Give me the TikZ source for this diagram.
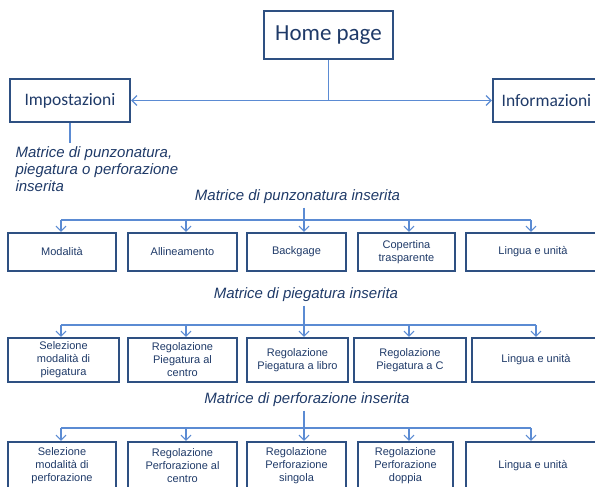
\documentclass[tikz,border=0pt]{standalone}
\usepackage{fontspec}
\setmainfont{Liberation Sans}
\newfontfamily\carlito{Carlito}
\usepackage{tikz}
\usetikzlibrary{arrows.meta, positioning}

\definecolor{boxline}{HTML}{2E5082}
\definecolor{boxtext}{HTML}{1F3A68}
\definecolor{linkblue}{HTML}{5B8BD3}

\begin{document}
\begin{tikzpicture}[
    x=1pt, y=-1pt,
    font=\fontsize{11}{13}\selectfont,
    text=boxtext,
    homebox/.style={draw=boxline, line width=2.6pt, minimum width=129pt, minimum height=48pt, font=\carlito\fontsize{23}{27}\selectfont},
    topbox/.style={draw=boxline, line width=2.4pt, minimum height=43pt, font=\carlito\fontsize{17.5}{20}\selectfont},
    leafbox/.style={draw=boxline, line width=2.2pt, align=center, inner sep=1pt, minimum height=#1},
    leafbox/.default=38pt,
    heading/.style={font=\itshape\fontsize{15}{17}\selectfont},
    link/.style={draw=linkblue, line width=1.1pt},
    arrow/.style={link, -{Straight Barb[length=5pt, width=10pt]}},
    biarrow/.style={link, {Straight Barb[length=5pt, width=10pt]}-{Straight Barb[length=5pt, width=10pt]}}
]
\clip (0,0) rectangle (595,487);

\node[homebox] (home) at (328.5,35) {Home page};
\node[topbox, minimum width=120pt] (settings) at (70,100.5) {Impostazioni};
\node[topbox, minimum width=107pt] (info) at (546.5,100.5) {Informazioni};
\node[heading, anchor=north west, align=left] (inserted) at (12,143) {Matrice di punzonatura,\\piegatura o perforazione\\inserita};

% punzonatura
\node[heading] (puntitle) at (297.5,197) {Matrice di punzonatura inserita};
\coordinate (punbus) at (304,220);
\node[leafbox, minimum width=108pt] (punmode) at (62,252) {Modalità};
\node[leafbox, minimum width=109pt] (punalign) at (182.5,252) {Allineamento};
\node[leafbox, minimum width=99pt] (punback) at (296.5,252) {Backgage};
\node[leafbox, minimum width=97pt] (puncover) at (406.5,252) {Copertina\\trasparente};
\node[leafbox, minimum width=134pt] (punlang) at (533,252) {Lingua e unità};

% piegatura
\node[heading] (foldtitle) at (306,295) {Matrice di piegatura inserita};
\coordinate (foldbus) at (304,325);
\node[leafbox=44pt, minimum width=111pt] (foldmode) at (63.5,360) {Selezione\\modalità di\\piegatura};
\node[leafbox=44pt, minimum width=109pt] (foldcentre) at (182.5,360) {Regolazione\\Piegatura al\\centro};
\node[leafbox=44pt, minimum width=101pt] (foldbook) at (297.5,360) {Regolazione\\Piegatura a libro};
\node[leafbox=44pt, minimum width=112pt] (foldc) at (410,360) {Regolazione\\Piegatura a C};
\node[leafbox=44pt, minimum width=128pt] (foldlang) at (536,360) {Lingua e unità};

% perforazione
\node[heading] (perftitle) at (307,400) {Matrice di perforazione inserita};
\coordinate (perfbus) at (304,428);
\node[leafbox=48pt, minimum width=108pt] (perfmode) at (62,466) {Selezione\\modalità di\\perforazione};
\node[leafbox=48pt, minimum width=109pt] (perfcentre) at (182.5,466) {Regolazione\\Perforazione al\\centro};
\node[leafbox=48pt, minimum width=99pt] (perfsingle) at (296.5,466) {Regolazione\\Perforazione\\singola};
\node[leafbox=48pt, minimum width=95pt] (perfdouble) at (405.5,466) {Regolazione\\Perforazione\\doppia};
\node[leafbox=48pt, minimum width=134pt] (perflang) at (533,466) {Lingua e unità};

\draw[link] (home.south) -- (home.south |- settings.east);
\draw[biarrow] (settings.east) -- (info.west);
\draw[link] (settings.south) -- (settings.south |- inserted.north);

\draw[link] (puntitle.south -| punbus) -- (punbus);
\draw[link] ([xshift=-1pt]punmode.north |- punbus) -- ([xshift=-2pt]punlang.north |- punbus);
\foreach \n/\dx in {punmode/-1, punalign/3.5, punback/7.5, puncover/2.5, punlang/-2}
  \draw[arrow] ([xshift=\dx pt]\n.north |- punbus) -- ([xshift=\dx pt]\n.north);

\draw[link] (foldtitle.south -| foldbus) -- (foldbus);
\draw[link] ([xshift=-2.5pt]foldmode.north |- foldbus) -- (foldlang.north |- foldbus);
\foreach \n/\dx in {foldmode/-2.5, foldcentre/3.5, foldbook/6.5, foldc/-1, foldlang/0}
  \draw[arrow] ([xshift=\dx pt]\n.north |- foldbus) -- ([xshift=\dx pt]\n.north);

\draw[link] (perftitle.south -| perfbus) -- (perfbus);
\draw[link] ([xshift=-1pt]perfmode.north |- perfbus) -- ([xshift=-2pt]perflang.north |- perfbus);
\foreach \n/\dx in {perfmode/-1, perfcentre/3.5, perfsingle/7.5, perfdouble/3.5, perflang/-2}
  \draw[arrow] ([xshift=\dx pt]\n.north |- perfbus) -- ([xshift=\dx pt]\n.north);

\end{tikzpicture}
\end{document}
